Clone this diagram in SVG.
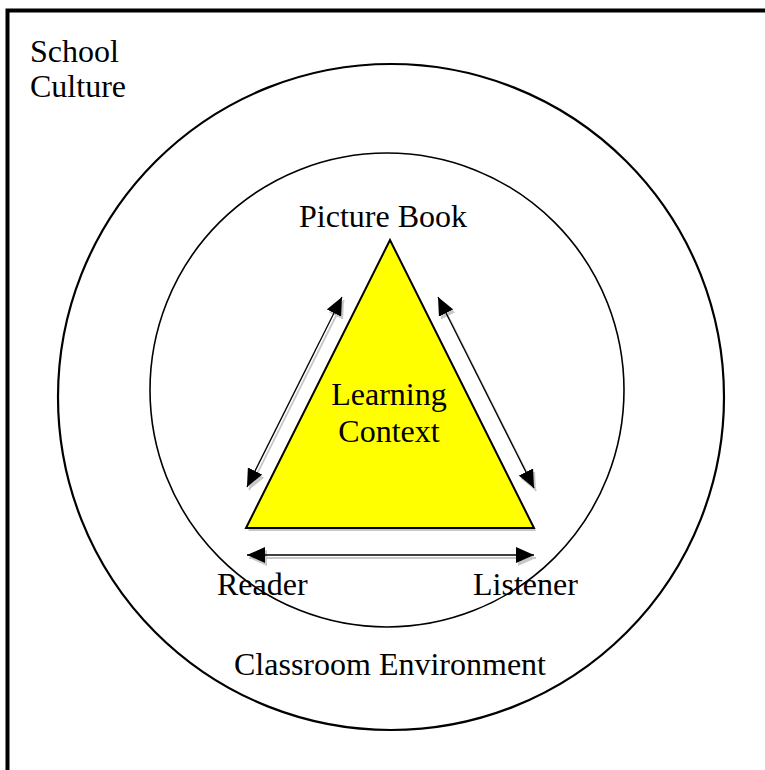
<svg xmlns="http://www.w3.org/2000/svg" width="765" height="770" viewBox="0 0 765 770">
<style>
text{font-family:"Liberation Serif","Times New Roman",serif;font-size:32px;fill:#000}
.ring{fill:none;stroke:#000}
.arr{stroke:#000;stroke-width:1.3;fill:none;marker-start:url(#ah);marker-end:url(#ah)}
.sh{stroke:#c8c8c8;stroke-width:1.8;fill:none;marker-start:url(#ahs);marker-end:url(#ahs)}
</style>
<defs>
<marker id="ah" markerUnits="userSpaceOnUse" viewBox="0 0 18 16" markerWidth="18" markerHeight="16" refX="18" refY="8" orient="auto-start-reverse"><path d="M0,0 L18,8 L0,16 z" fill="#000"/></marker>
<marker id="ahs" markerUnits="userSpaceOnUse" viewBox="0 0 18 16" markerWidth="18" markerHeight="16" refX="18" refY="8" orient="auto-start-reverse"><path d="M0,0 L18,8 L0,16 z" fill="#c8c8c8"/></marker>
</defs>
<rect x="0" y="0" width="765" height="770" fill="#fff"/>
<g id="school-culture">
<path d="M7.5,770 V10.5 H770" fill="none" stroke="#000" stroke-width="4"/>
<text x="30" y="62">School</text>
<text x="30" y="97">Culture</text>
</g>
<g id="classroom-environment">
<circle class="ring" cx="391" cy="397" r="333" stroke-width="2.2"/>
<text x="390" y="675" text-anchor="middle">Classroom Environment</text>
</g>
<g id="inner-circle">
<circle class="ring" cx="387" cy="390" r="237" stroke-width="1.6"/>
</g>
<g id="learning-context">
<polygon points="392,243 248,531 536,531" fill="#c8c8c8"/>
<polygon points="390,240 246,528 534,528" fill="#ffff00" stroke="#000" stroke-width="2"/>
<text x="389" y="405" text-anchor="middle">Learning</text>
<text x="389" y="442" text-anchor="middle">Context</text>
</g>
<g id="picture-book"><text x="383" y="227" text-anchor="middle">Picture Book</text></g>
<g id="reader"><text x="217" y="595">Reader</text></g>
<g id="listener"><text x="473" y="595">Listener</text></g>
<g id="connectors">
<line class="sh" x1="249" y1="490" x2="344" y2="300"/>
<line class="sh" x1="440" y1="300" x2="536" y2="491"/>
<line class="sh" x1="249" y1="558" x2="536" y2="558"/>
<line class="arr" x1="247" y1="487" x2="342" y2="297"/>
<line class="arr" x1="438" y1="297" x2="534" y2="488"/>
<line class="arr" x1="247" y1="555" x2="534" y2="555"/>
</g>
</svg>
